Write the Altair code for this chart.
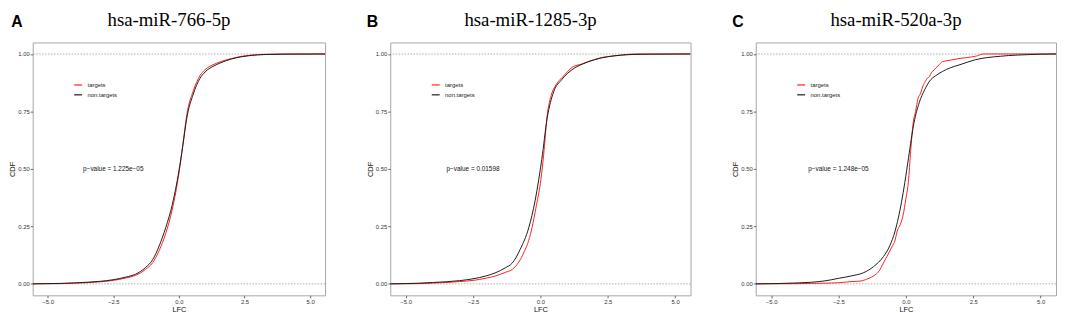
import altair as alt
import pandas as pd

# ---------------- data ----------------
panel_names = ["hsa-miR-766-5p", "hsa-miR-1285-3p", "hsa-miR-520a-3p"]
panel_letters = ["A", "B", "C"]
p_values = ["1.225e\u221205", "0.01598", "1.248e\u221205"]
groups = ["targets", "non.targets"]

# Panel A
a_t_x = [-5.57, -4.5, -4, -3.5, -3, -2.5, -2, -1.65, -1.28, -1, -0.75, -0.5, -0.25, 0, 0.15, 0.3, 0.55, 0.8, 1.0, 1.3, 1.6, 2.0, 2.4, 3.0, 3.5, 4.0, 5.57]
a_t_y = [0, 0.001, 0.003, 0.005, 0.009, 0.015, 0.026, 0.037, 0.062, 0.092, 0.145, 0.22, 0.325, 0.48, 0.605, 0.735, 0.84, 0.905, 0.932, 0.953, 0.967, 0.98, 0.99, 0.997, 0.999, 1, 1]
a_n_x = [-5.57, -4.5, -4, -3.5, -3, -2.5, -2, -1.65, -1.28, -1, -0.75, -0.5, -0.25, 0, 0.15, 0.3, 0.55, 0.8, 1.0, 1.3, 1.6, 2.0, 2.4, 3.0, 3.5, 4.0, 5.57]
a_n_y = [0, 0.002, 0.004, 0.007, 0.011, 0.018, 0.03, 0.042, 0.07, 0.105, 0.165, 0.245, 0.345, 0.49, 0.6, 0.72, 0.826, 0.893, 0.922, 0.946, 0.962, 0.978, 0.988, 0.996, 0.998, 0.999, 1]

# Panel B
b_t_x = [-5.57, -4.5, -4, -3.5, -3, -2.5, -2, -1.65, -1.3, -1.04, -0.8, -0.6, -0.43, -0.31, -0.15, 0.02, 0.12, 0.25, 0.4, 0.55, 0.7, 0.91, 1.1, 1.28, 1.5, 1.75, 2.0, 2.3, 2.6, 3.0, 3.5, 5.57]
b_t_y = [0, 0.001, 0.003, 0.006, 0.01, 0.015, 0.025, 0.035, 0.05, 0.063, 0.095, 0.14, 0.19, 0.245, 0.34, 0.455, 0.56, 0.73, 0.82, 0.86, 0.885, 0.91, 0.935, 0.948, 0.955, 0.966, 0.975, 0.985, 0.99, 0.995, 1, 1]
b_n_x = [-5.57, -4.5, -4, -3.5, -3, -2.5, -2, -1.65, -1.3, -1.04, -0.75, -0.43, -0.2, -0.06, 0.05, 0.25, 0.49, 0.79, 1.0, 1.28, 1.6, 2.0, 2.5, 3.0, 3.5, 4.0, 5.57]
b_n_y = [0, 0.003, 0.006, 0.009, 0.014, 0.022, 0.035, 0.049, 0.07, 0.091, 0.15, 0.245, 0.36, 0.455, 0.54, 0.72, 0.835, 0.888, 0.915, 0.94, 0.958, 0.975, 0.988, 0.995, 0.998, 0.999, 1]

# Panel C
c_t_x = [-5.57, -4, -3.5, -3, -2.5, -2.2, -2.0, -1.7, -1.5, -1.35, -1.19, -1.0, -0.83, -0.7, -0.52, -0.4, -0.32, -0.2, -0.1, 0.0, 0.09, 0.18, 0.27, 0.36, 0.45, 0.55, 0.63, 0.72, 0.8, 0.88, 0.95, 1.0, 1.12, 1.25, 1.36, 1.6, 1.97, 2.3, 2.58, 2.9, 5.57]
c_t_y = [0, 0.001, 0.002, 0.003, 0.005, 0.008, 0.01, 0.012, 0.018, 0.025, 0.035, 0.055, 0.091, 0.12, 0.16, 0.19, 0.23, 0.26, 0.30, 0.37, 0.44, 0.58, 0.70, 0.75, 0.806, 0.83, 0.86, 0.88, 0.895, 0.903, 0.92, 0.925, 0.94, 0.955, 0.967, 0.972, 0.98, 0.985, 0.99, 1.0, 1.0]
c_n_x = [-5.57, -4, -3.5, -3, -2.5, -2, -1.56, -1.2, -0.83, -0.6, -0.4, -0.16, -0.04, 0.1, 0.3, 0.5, 0.7, 0.88, 1.1, 1.36, 1.65, 1.97, 2.3, 2.58, 3.0, 3.5, 3.8, 4.5, 5.0, 5.57]
c_n_y = [0, 0.004, 0.007, 0.013, 0.024, 0.035, 0.049, 0.075, 0.119, 0.165, 0.23, 0.357, 0.44, 0.55, 0.7, 0.79, 0.845, 0.882, 0.905, 0.924, 0.94, 0.952, 0.965, 0.975, 0.984, 0.99, 0.993, 0.997, 0.999, 1]

series = [
    (a_t_x, a_t_y, a_n_x, a_n_y),
    (b_t_x, b_t_y, b_n_x, b_n_y),
    (c_t_x, c_t_y, c_n_x, c_n_y),
]

x_ticks = [-5, -2.5, 0, 2.5, 5]
y_ticks = [0, 0.25, 0.5, 0.75, 1]

widths = [296, 304, 304]
HEIGHT = 256
letter_dx = [-16, -18, -18]

SANS = "Liberation Sans"
SERIF = "Liberation Serif"


def make_panel(i):
    tx, ty, nx, ny = series[i]
    df = pd.concat([
        pd.DataFrame({"LFC": tx, "CDF": ty, "group": groups[0]}),
        pd.DataFrame({"LFC": nx, "CDF": ny, "group": groups[1]}),
    ], ignore_index=True)
    w = widths[i]

    xs = alt.Scale(domain=[-5.57, 5.57], nice=False, zero=False)
    ys = alt.Scale(domain=[-0.05, 1.05], nice=False, zero=False)

    rules = alt.Chart(pd.DataFrame({"v": [0, 1]})).mark_rule(
        color="#8a8a8a", strokeDash=[1.5, 1.5], strokeWidth=0.7
    ).encode(y=alt.Y("v:Q", scale=ys))

    lines = alt.Chart(df).mark_line(strokeWidth=1, clip=True, interpolate="monotone").encode(
        x=alt.X("LFC:Q", scale=xs, title="LFC",
                axis=alt.Axis(values=x_ticks, format=".1f")),
        y=alt.Y("CDF:Q", scale=ys, title="CDF",
                axis=alt.Axis(values=y_ticks, format=".2f")),
        color=alt.Color("group:N",
                        scale=alt.Scale(domain=groups, range=["#ff2020", "#1a1a1a"]),
                        legend=alt.Legend(orient="none", legendX=41, legendY=38, title=None,
                                          symbolType="stroke", symbolSize=64,
                                          symbolStrokeWidth=1.2, labelFont=SANS,
                                          labelFontSize=6, labelOffset=4.5,
                                          rowPadding=2, padding=0, labelColor="#222")),
    )

    ptxt = alt.Chart(pd.DataFrame({"x": [-2.5], "y": [0.5],
                                   "t": ["p\u2212value = " + p_values[i]]})).mark_text(
        font=SANS, fontSize=6.5, color="#111"
    ).encode(x=alt.X("x:Q", scale=xs), y=alt.Y("y:Q", scale=ys), text="t:N")

    letter = alt.Chart(pd.DataFrame({"t": [panel_letters[i]]})).mark_text(
        font=SANS, fontSize=16, fontWeight="bold", align="center", baseline="alphabetic",
        color="#000"
    ).encode(x=alt.value(letter_dx[i]), y=alt.value(-16), text="t:N")

    name = alt.Chart(pd.DataFrame({"t": [panel_names[i]]})).mark_text(
        font=SERIF, fontSize=19, align="center", baseline="alphabetic", color="#000"
    ).encode(x=alt.value(w / 2 - 10), y=alt.value(-17), text="t:N")

    return alt.layer(rules, lines, ptxt, letter, name).properties(width=w, height=HEIGHT)


chart = alt.hconcat(*[make_panel(i) for i in range(3)], spacing=40).resolve_scale(
    color="independent"
).configure_view(
    stroke="#a6a6a6", strokeWidth=1
).configure_axis(
    grid=False, domain=False, tickSize=2.5, tickColor="#444", tickWidth=0.8,
    labelFont=SANS, labelFontSize=6, labelColor="#333", labelPadding=1,
    titleFont=SANS, titleFontSize=7.5, titleFontWeight="normal", titleColor="#111",
    titlePadding=1
).properties(padding={"left": 0, "top": 0, "right": 0, "bottom": 0})

chart.save("out.html", embed_options={"renderer": "svg", "actions": False})
